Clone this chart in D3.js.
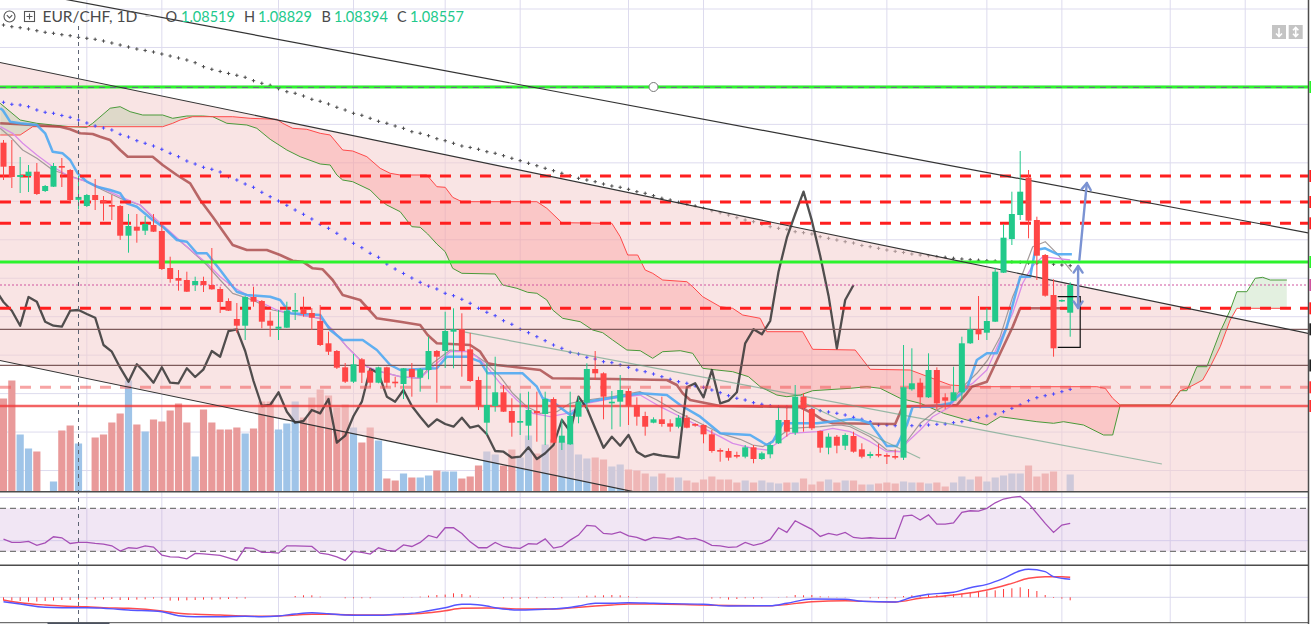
<!DOCTYPE html>
<html>
<head>
<meta charset="utf-8">
<script src="https://cdn.jsdelivr.net/npm/d3@7/dist/d3.min.js"></script>
<style>
  html, body { margin: 0; padding: 0; background: #fff; overflow: hidden; }
  svg { display: block; }
</style>
</head>
<body>
<div id="chart"></div>
<script>
// ---- data ----
const opens = [1.09262,1.08959,1.08816,1.08829,1.08885,1.08634,1.08690,1.08959,1.08907,1.08519,
1.08439,1.08582,1.08517,1.08452,1.08439,1.08053,1.08170,1.08118,1.08192,1.08114,
1.07633,1.07503,1.07477,1.07412,1.07464,1.07412,1.07360,1.07204,1.06970,1.06883,
1.07256,1.07204,1.06948,1.06844,1.06857,1.07065,1.07100,1.07048,1.06944,1.06654,
1.06554,1.06342,1.06155,1.06446,1.06298,1.06142,1.06342,1.06155,1.06125,1.06320,
1.06207,1.06307,1.06554,1.06554,1.06805,1.06836,1.06576,1.06177,1.05622,1.05839,
1.06017,1.05774,1.05622,1.05583,1.05774,1.05735,1.05930,1.05362,1.05341,1.05700,
1.05882,1.06320,1.06264,1.05874,1.05895,1.06034,1.05852,1.05709,1.05622,1.05666,
1.05614,1.05570,1.05687,1.05605,1.05592,1.05471,1.05267,1.05254,1.05202,1.05180,
1.05302,1.05150,1.05211,1.05354,1.05657,1.05492,1.05960,1.05800,1.05514,1.05297,
1.05440,1.05323,1.05449,1.05276,1.05189,1.05215,1.05202,1.05189,1.05167,1.06056,
1.06142,1.05952,1.06307,1.05952,1.05908,1.06017,1.06654,1.06836,1.06792,1.06935,
1.07572,1.08010,1.08322,1.08806,1.08257,1.07802,1.07282,1.07198,1.07052];
const highs = [1.09297,1.09297,1.09076,1.08972,1.08998,1.08712,1.08998,1.09063,1.08920,1.08829,
1.08595,1.08790,1.08569,1.08582,1.08452,1.08335,1.08335,1.08309,1.08335,1.08218,
1.07780,1.07607,1.07585,1.07520,1.07520,1.07893,1.07390,1.07239,1.07178,1.07269,
1.07390,1.07217,1.07065,1.07087,1.07195,1.07308,1.07260,1.07113,1.07152,1.06805,
1.06567,1.06398,1.06515,1.06463,1.06329,1.06350,1.06350,1.06220,1.06333,1.06398,
1.06333,1.06740,1.06567,1.07065,1.07109,1.07044,1.06788,1.06220,1.06394,1.06480,
1.06112,1.05939,1.06004,1.06025,1.06025,1.06025,1.05952,1.05679,1.06025,1.05960,
1.06394,1.06554,1.06277,1.06034,1.06242,1.06069,1.05952,1.05765,1.05692,1.05960,
1.05666,1.05722,1.05722,1.05614,1.05599,1.05527,1.05289,1.05289,1.05245,1.05332,
1.05332,1.05245,1.05354,1.05809,1.05830,1.06112,1.06004,1.05809,1.05520,1.05484,
1.05462,1.05484,1.05505,1.05354,1.05245,1.05345,1.05224,1.05276,1.06632,1.06589,
1.06199,1.06524,1.06342,1.06004,1.06350,1.06740,1.07000,1.07269,1.07109,1.07637,
1.08201,1.08625,1.09154,1.08907,1.08300,1.07815,1.07486,1.07224,1.07447];
const lows = [1.08777,1.08673,1.08608,1.08621,1.08582,1.08621,1.08686,1.08686,1.08491,1.08394,
1.08426,1.08387,1.08248,1.08257,1.07997,1.07832,1.07962,1.08062,1.08101,1.07607,
1.07442,1.07338,1.07321,1.07334,1.07321,1.07351,1.07048,1.07074,1.06792,1.06697,
1.07130,1.06849,1.06740,1.06697,1.06853,1.06957,1.07000,1.06827,1.06619,1.06502,
1.06320,1.06138,1.06138,1.06138,1.06082,1.06134,1.06082,1.06082,1.05930,1.05960,
1.06025,1.06186,1.05882,1.06333,1.06329,1.06220,1.06151,1.05787,1.05462,1.05765,
1.05761,1.05440,1.05462,1.05397,1.05375,1.05332,1.05354,1.05267,1.05332,1.05614,
1.05787,1.06177,1.05666,1.05536,1.05570,1.05592,1.05583,1.05453,1.05614,1.05570,
1.05505,1.05549,1.05549,1.05570,1.05354,1.05232,1.05115,1.05128,1.05159,1.05159,
1.05094,1.05137,1.05159,1.05345,1.05440,1.05462,1.05505,1.05527,1.05232,1.05211,
1.05224,1.05267,1.05232,1.05159,1.05159,1.05172,1.05085,1.05146,1.05137,1.06038,
1.05809,1.05943,1.05796,1.05796,1.05904,1.05908,1.06645,1.06697,1.06697,1.06931,
1.07568,1.07932,1.08257,1.08019,1.07477,1.07260,1.06480,1.07191,1.06740];
const closes = [1.08950,1.08816,1.08842,1.08885,1.08595,1.08699,1.08959,1.08937,1.08517,1.08557,
1.08582,1.08517,1.08482,1.08430,1.08053,1.08179,1.08118,1.08205,1.08105,1.07620,
1.07490,1.07468,1.07325,1.07464,1.07412,1.07356,1.07191,1.07078,1.06883,1.07256,
1.07195,1.06935,1.06883,1.06870,1.07078,1.07087,1.07035,1.06987,1.06632,1.06545,
1.06337,1.06155,1.06381,1.06272,1.06142,1.06342,1.06142,1.06134,1.06329,1.06216,
1.06316,1.06554,1.06480,1.06814,1.06836,1.06554,1.06164,1.05839,1.05852,1.06017,
1.05765,1.05622,1.05644,1.05787,1.05744,1.05930,1.05362,1.05453,1.05709,1.05895,
1.06320,1.06264,1.05960,1.05895,1.06047,1.05839,1.05700,1.05570,1.05666,1.05605,
1.05570,1.05687,1.05557,1.05583,1.05471,1.05254,1.05245,1.05167,1.05180,1.05302,
1.05150,1.05224,1.05332,1.05657,1.05505,1.05960,1.05809,1.05549,1.05297,1.05440,
1.05323,1.05462,1.05245,1.05180,1.05215,1.05193,1.05180,1.05167,1.06082,1.06134,
1.05952,1.06307,1.05874,1.05908,1.06017,1.06654,1.06836,1.06771,1.06944,1.07585,
1.08027,1.08335,1.08625,1.08248,1.07793,1.07273,1.06589,1.07217,1.07412];
const volumes = [93,111,57,43,40,0,10,61,66,48,1,54,57,69,78,111,67,60,72,70,
81,88,69,35,82,69,62,62,64,58,63,90,90,62,68,90,74,94,102,96,
84,87,64,49,64,51,13,11,18,14,14,16,21,20,20,13,15,26,40,37,
26,42,34,56,38,47,52,50,48,37,33,34,32,25,27,22,21,18,15,18,
14,14,11,9,12,15,12,12,9,11,9,11,9,8,9,9,13,7,10,12,
9,11,11,7,7,8,9,8,10,9,9,8,9,5,9,15,12,15,10,14,
16,18,18,26,15,18,20,0,17];

// long moving averages drawn as "+" marks (one value per bar)
const grayCross = [1.10792,1.10770,1.10757,1.10740,1.10718,1.10697,1.10684,1.10666,1.10653,1.10632,
1.10619,1.10606,1.10584,1.10558,1.10532,1.10506,1.10480,1.10461,1.10441,1.10415,
1.10389,1.10363,1.10337,1.10302,1.10250,1.10216,1.10188,1.10162,1.10138,1.10112,
1.10068,1.10034,1.10008,1.09964,1.09925,1.09904,1.09869,1.09826,1.09800,1.09765,
1.09722,1.09687,1.09644,1.09618,1.09579,1.09540,1.09514,1.09479,1.09449,1.09405,
1.09384,1.09353,1.09314,1.09288,1.09254,1.09219,1.09200,1.09176,1.09145,1.09124,
1.09093,1.09059,1.09028,1.08994,1.08963,1.08929,1.08898,1.08864,1.08833,1.08799,
1.08777,1.08755,1.08725,1.08699,1.08682,1.08656,1.08625,1.08604,1.08573,1.08539,
1.08517,1.08487,1.08461,1.08439,1.08409,1.08378,1.08352,1.08322,1.08287,1.08257,
1.08235,1.08201,1.08170,1.08149,1.08136,1.08105,1.08092,1.08075,1.08040,1.08019,
1.07997,1.07975,1.07958,1.07926,1.07910,1.07889,1.07867,1.07850,1.07835,1.07815,
1.07802,1.07793,1.07780,1.07772,1.07759,1.07750,1.07741,1.07734,1.07728,1.07724,
1.07718,1.07712,1.07707,1.07698,1.07694,1.07689,1.07682,1.07672,1.07663];
const blueCross = [1.09787,1.09761,1.09752,1.09730,1.09687,1.09657,1.09644,1.09616,1.09592,1.09557,
1.09518,1.09479,1.09453,1.09427,1.09371,1.09336,1.09288,1.09254,1.09219,1.09176,
1.09124,1.09080,1.09024,1.08985,1.08942,1.08916,1.08881,1.08820,1.08777,1.08725,
1.08682,1.08617,1.08560,1.08504,1.08448,1.08387,1.08331,1.08270,1.08201,1.08149,
1.08084,1.08010,1.07954,1.07897,1.07824,1.07772,1.07685,1.07620,1.07562,1.07503,
1.07447,1.07399,1.07360,1.07304,1.07273,1.07226,1.07174,1.07109,1.07057,1.07013,
1.06948,1.06901,1.06836,1.06792,1.06740,1.06688,1.06632,1.06589,1.06537,1.06515,
1.06472,1.06450,1.06415,1.06402,1.06372,1.06342,1.06307,1.06285,1.06255,1.06220,
1.06186,1.06155,1.06134,1.06099,1.06082,1.06047,1.06012,1.05973,1.05939,1.05917,
1.05882,1.05861,1.05843,1.05830,1.05830,1.05817,1.05809,1.05796,1.05778,1.05761,
1.05744,1.05722,1.05692,1.05666,1.05635,1.05592,1.05592,1.05583,1.05583,1.05583,
1.05583,1.05592,1.05601,1.05605,1.05622,1.05635,1.05657,1.05687,1.05709,1.05735,
1.05765,1.05809,1.05852,1.05908,1.05947,1.05973,1.05995,1.06025,1.06056];

// ichimoku + short averages, vertices as [bar, price]
const spanA = [[-0.4,1.09774],[2.0,1.09557],[4.0,1.09514],[5.9,1.09492],[8.0,1.09470],[10.0,1.09462],[10.7,1.09514],[12.8,1.09710],[14.0,1.09730],[15.2,1.09665],[16.7,1.09622],[19.1,1.09622],[20.3,1.09579],[22.0,1.09609],[23.9,1.09609],[25.1,1.09600],[26.8,1.09514],[29.2,1.09492],[30.4,1.09449],[32.0,1.09306],[34.0,1.09167],[35.6,1.09080],[38.0,1.08985],[39.2,1.08972],[40.0,1.08842],[40.7,1.08777],[41.9,1.08755],[44.0,1.08647],[45.2,1.08517],[46.0,1.08452],[47.6,1.08365],[49.0,1.08170],[50.0,1.08162],[50.9,1.08075],[52.0,1.07945],[53.0,1.07845],[53.9,1.07629],[55.0,1.07564],[59.0,1.07555],[59.9,1.07412],[61.6,1.07369],[62.9,1.07317],[64.0,1.07304],[65.2,1.07217],[65.9,1.07087],[67.1,1.06979],[69.2,1.06935],[70.7,1.06827],[71.9,1.06792],[73.1,1.06697],[74.8,1.06567],[76.4,1.06558],[77.9,1.06459],[79.1,1.06545],[81.2,1.06558],[82.7,1.06524],[83.9,1.06329],[85.6,1.06307],[87.5,1.06285],[89.4,1.06220],[90.8,1.06090],[92.8,1.05982],[94.0,1.05960],[95.6,1.05982],[97.1,1.06038],[101.6,1.06069],[103.6,1.06090],[105.2,1.06069],[107.6,1.05939],[110.0,1.05874],[112.8,1.05744],[115.6,1.05657],[118.0,1.05592],[119.6,1.05700],[124.0,1.05635],[126.0,1.05614],[127.2,1.05635],[129.6,1.05592],[132.0,1.05462],[133.1,1.05462],[134.0,1.05852],[140.0,1.05852],[141.2,1.06038],[142.0,1.06038],[143.2,1.06350],[144.4,1.06350],[146.0,1.06805],[147.2,1.07087],[148.0,1.07325],[149.2,1.07325],[150.2,1.07499],[151.1,1.07512],[152.0,1.07477],[154.0,1.07477]];
const spanB = [[-0.4,1.09362],[2.0,1.09362],[3.5,1.09470],[19.1,1.09470],[20.3,1.09514],[21.2,1.09557],[22.7,1.09600],[27.5,1.09600],[29.6,1.09579],[32.8,1.09566],[33.5,1.09514],[34.7,1.09449],[36.4,1.09436],[38.0,1.09384],[39.2,1.09362],[40.7,1.09167],[41.9,1.09154],[43.6,1.09080],[45.2,1.08929],[46.4,1.08864],[47.6,1.08842],[50.8,1.08842],[52.0,1.08690],[53.0,1.08682],[53.9,1.08552],[55.0,1.08495],[64.0,1.08495],[65.2,1.08409],[67.0,1.08222],[73.0,1.08214],[74.0,1.08040],[74.9,1.07802],[76.1,1.07802],[77.0,1.07607],[77.9,1.07564],[79.1,1.07477],[82.0,1.07455],[82.7,1.07390],[83.9,1.07260],[86.0,1.07130],[87.5,1.07109],[88.7,1.07022],[90.8,1.06979],[91.6,1.06805],[95.9,1.06805],[97.1,1.06576],[102.2,1.06567],[104.0,1.06316],[108.8,1.06307],[113.6,1.06112],[116.8,1.06090],[131.2,1.06090],[132.2,1.06069],[133.1,1.05939],[134.0,1.05852],[140.0,1.05852],[141.2,1.06038],[142.4,1.06090],[143.9,1.06177],[144.8,1.06350],[146.0,1.06610],[147.2,1.06957],[148.0,1.07109],[154.0,1.07109]];
const kijun = [[-0.4,1.09514],[2.0,1.09501],[6.8,1.09470],[8.0,1.09436],[9.2,1.09384],[10.7,1.09375],[11.6,1.09340],[12.8,1.09297],[14.0,1.09167],[14.9,1.09080],[17.9,1.09080],[19.1,1.08972],[20.8,1.08842],[22.4,1.08734],[23.6,1.08517],[25.1,1.08300],[27.5,1.07932],[29.2,1.07867],[31.6,1.07867],[33.2,1.07802],[34.7,1.07728],[35.9,1.07715],[37.1,1.07629],[38.3,1.07616],[39.5,1.07477],[40.7,1.07282],[42.8,1.07217],[44.8,1.06979],[47.6,1.06935],[50.0,1.06892],[50.9,1.06762],[52.0,1.06654],[56.0,1.06632],[57.2,1.06545],[58.1,1.06394],[59.2,1.06372],[64.4,1.06307],[65.9,1.06199],[73.1,1.06190],[79.6,1.06177],[80.8,1.06112],[81.5,1.06004],[82.4,1.05917],[86.0,1.05839],[92.3,1.05830],[95.6,1.05822],[97.1,1.05744],[98.3,1.05657],[99.5,1.05614],[107.0,1.05605],[107.9,1.05830],[114.4,1.05852],[115.6,1.06004],[116.2,1.06090],[118.0,1.06155],[119.6,1.06524],[121.1,1.06870],[122.0,1.07109],[128.1,1.07109]];
const tenkan = [[-0.4,1.09709],[-0.1,1.09687],[0.8,1.09535],[2.0,1.09514],[4.0,1.09492],[5.0,1.09384],[5.9,1.09145],[7.1,1.09124],[8.0,1.09037],[8.9,1.08864],[10.0,1.08755],[11.2,1.08690],[12.8,1.08647],[14.0,1.08604],[14.8,1.08474],[16.0,1.08430],[17.9,1.08257],[19.1,1.08170],[20.8,1.07997],[22.0,1.07975],[23.2,1.07824],[24.4,1.07824],[26.0,1.07607],[27.2,1.07434],[28.0,1.07325],[29.2,1.07282],[32.0,1.07260],[33.2,1.07217],[34.4,1.07044],[38.0,1.07022],[39.2,1.06827],[40.7,1.06697],[43.1,1.06697],[44.8,1.06567],[46.4,1.06372],[47.6,1.06307],[52.0,1.06329],[53.2,1.06480],[55.6,1.06480],[57.2,1.06415],[58.1,1.06264],[62.3,1.06264],[64.0,1.06090],[64.7,1.05939],[65.9,1.05895],[68.0,1.05722],[70.0,1.05895],[76.4,1.06004],[79.6,1.05982],[81.2,1.05852],[83.6,1.05700],[86.0,1.05484],[89.6,1.05462],[91.6,1.05332],[92.3,1.05375],[93.5,1.05614],[97.6,1.05614],[99.2,1.05635],[101.6,1.05666],[102.8,1.05657],[104.0,1.05614],[106.0,1.05319],[107.2,1.05319],[108.4,1.05592],[109.1,1.05830],[111.5,1.05830],[113.6,1.05874],[115.6,1.06069],[116.8,1.06437],[118.0,1.06524],[119.2,1.06524],[120.4,1.06870],[122.0,1.07520],[123.2,1.07520],[123.8,1.07867],[125.0,1.07889],[126.5,1.07811],[128.2,1.07811]];
const maPink = [[-0.4,1.09470],[1.1,1.09384],[2.3,1.09254],[4.0,1.09102],[5.9,1.08950],[8.0,1.08820],[10.0,1.08755],[11.9,1.08669],[14.0,1.08560],[16.4,1.08452],[18.4,1.08257],[20.0,1.08105],[22.0,1.07910],[24.4,1.07694],[26.0,1.07520],[27.5,1.07390],[29.9,1.07239],[32.8,1.07087],[34.4,1.07044],[38.0,1.06979],[39.5,1.06827],[41.2,1.06610],[43.6,1.06350],[45.2,1.06285],[47.6,1.06220],[50.0,1.06199],[51.5,1.06350],[53.6,1.06545],[55.6,1.06545],[56.8,1.06480],[58.0,1.06350],[59.6,1.06134],[61.6,1.05917],[63.5,1.05744],[65.6,1.05700],[67.6,1.05744],[70.0,1.05874],[73.1,1.05939],[76.4,1.05982],[78.8,1.05830],[80.8,1.05722],[83.6,1.05570],[86.0,1.05440],[87.5,1.05354],[89.9,1.05289],[91.6,1.05267],[92.8,1.05354],[94.4,1.05484],[97.6,1.05505],[99.5,1.05549],[101.6,1.05505],[104.0,1.05375],[106.0,1.05245],[107.6,1.05245],[108.5,1.05375],[110.0,1.05527],[111.5,1.05700],[113.6,1.05830],[115.1,1.06069],[116.3,1.06134],[118.0,1.06307],[119.6,1.06697],[121.1,1.07044],[122.3,1.07434],[123.4,1.07650],[124.7,1.07780],[126.4,1.07759],[128.0,1.07737]];
const maGray = [[-0.4,1.09449],[0.8,1.09340],[2.3,1.09167],[4.0,1.09059],[5.9,1.08907],[8.0,1.08829],[10.0,1.08755],[11.9,1.08647],[14.0,1.08539],[16.4,1.08452],[18.4,1.08235],[20.0,1.08084],[22.0,1.07910],[24.4,1.07672],[26.0,1.07477],[27.5,1.07304],[29.9,1.07217],[32.3,1.07087],[34.4,1.07044],[38.0,1.06979],[39.5,1.06827],[41.2,1.06610],[43.6,1.06350],[45.2,1.06285],[47.6,1.06220],[50.0,1.06199],[51.5,1.06394],[53.6,1.06567],[56.0,1.06545],[58.0,1.06394],[59.6,1.06220],[61.1,1.06004],[62.8,1.05830],[64.4,1.05744],[66.4,1.05765],[68.0,1.05874],[70.0,1.05917],[73.1,1.05960],[76.4,1.06025],[78.4,1.05917],[80.8,1.05765],[83.6,1.05614],[86.0,1.05484],[88.4,1.05406],[89.9,1.05332],[91.1,1.05310],[92.8,1.05419],[94.4,1.05549],[98.0,1.05570],[100.4,1.05592],[101.6,1.05570],[104.0,1.05440],[106.0,1.05267],[107.6,1.05245],[108.5,1.05397],[110.0,1.05614],[112.0,1.05787],[113.6,1.05874],[115.1,1.06090],[116.8,1.06264],[118.1,1.06437],[119.6,1.06740],[121.1,1.07260],[122.3,1.07564],[123.5,1.07910],[125.0,1.07975],[126.4,1.07824],[128.2,1.07585]];
const chikouShift = 26;

// horizontal levels
const redLevels = [1.08829, 1.08491, 1.08214, 1.07109];
const greenLevels = [1.09986, 1.07711];
const thinLevels = [1.06836, 1.06366];
const fadedRedLevel = 1.06082;
const solidRedLevel = 1.05839;

// drawn trend lines: two anchors [bar, price]
const topLine = [[50, 1.10259], [150, 1.08224]];
const channelUpper = [[0, 1.10295], [150, 1.06931]];
const channelLower = [[0, 1.06421], [75, 1.04739]];
const fanLine = [[55.1, 1.06805], [139, 1.05085]];
const shortLine = [[95.6, 1.05904], [110, 1.05159]];
const arrowUp = [[129.1, 1.07737], [130.0, 1.08738]];
const arrowBoth = [[128.95, 1.07113], [128.95, 1.07659]];
const boxBars = [126.5, 129.2];
const boxPrices = [1.07260, 1.06602];
const handleBar = 78;

// RSI (one per bar)
const rsi = [41.4,38.4,38.4,39.3,35.6,38.0,43.6,42.7,37.4,38.4,
38.4,37.5,36.8,35.2,30.3,33.4,32.8,35.2,34.0,26.6,
25.0,24.7,23.1,28.1,27.8,27.0,26.3,24.1,21.6,33.4,
32.8,29.1,29.1,28.4,35.2,35.2,34.9,34.6,28.4,27.2,
25.0,21.6,30.0,29.1,27.5,33.4,30.9,30.3,36.1,34.6,
38.4,44.9,42.7,52.0,52.0,46.7,38.9,33.4,33.4,38.4,
34.6,33.4,32.8,37.1,36.8,41.7,33.1,34.6,40.5,45.2,
54.2,53.5,46.7,46.1,48.2,44.5,43.0,40.2,43.0,42.4,
41.4,43.6,41.4,42.1,39.6,35.6,35.2,33.7,34.3,38.4,
35.6,37.4,41.2,52.0,47.7,58.5,54.5,50.5,43.9,46.7,
45.2,47.7,43.0,42.1,42.7,42.1,42.1,42.1,62.8,63.8,
59.1,64.0,55.4,55.4,56.6,66.3,67.8,67.5,70.0,75.2,
78.7,80.2,81.2,74.6,65.3,56.0,47.7,54.5,56.0];
const rsiLevels = [70, 30];
const rsiGrid = [80, 40];

// MACD vertices [bar, value] and histogram per bar
const macdLine = [[0,-0.00044],[2,-0.00067],[5,-0.00100],[7,-0.00104],[10,-0.00104],[12,-0.00110],[15,-0.00127],[19,-0.00144],[21,-0.00184],[23,-0.00194],[26,-0.00194],[29,-0.00190],[31,-0.00194],[33,-0.00187],[35,-0.00167],[37,-0.00154],[39,-0.00164],[41,-0.00177],[43,-0.00180],[45,-0.00180],[47,-0.00170],[49,-0.00160],[51,-0.00134],[53,-0.00104],[55,-0.00070],[56,-0.00070],[58,-0.00087],[59,-0.00104],[62,-0.00127],[65,-0.00120],[67,-0.00110],[69,-0.00087],[71,-0.00060],[73,-0.00060],[75,-0.00054],[78,-0.00060],[84,-0.00070],[87,-0.00087],[92,-0.00084],[94,-0.00060],[97,-0.00017],[101,-0.00020],[103,-0.00040],[107,-0.00047],[109,0.00000],[111,0.00030],[114,0.00050],[116,0.00096],[118,0.00130],[120,0.00190],[122,0.00266],[123,0.00280],[125,0.00256],[126,0.00206],[128,0.00180]];
const signalLine = [[0,-0.00027],[2,-0.00054],[5,-0.00077],[7,-0.00087],[10,-0.00094],[12,-0.00104],[15,-0.00110],[19,-0.00137],[21,-0.00160],[23,-0.00170],[26,-0.00177],[29,-0.00187],[31,-0.00190],[33,-0.00187],[35,-0.00177],[37,-0.00170],[39,-0.00170],[41,-0.00174],[43,-0.00177],[45,-0.00177],[47,-0.00174],[49,-0.00167],[51,-0.00154],[53,-0.00134],[55,-0.00110],[58,-0.00107],[60,-0.00110],[62,-0.00117],[65,-0.00117],[67,-0.00114],[69,-0.00100],[71,-0.00087],[73,-0.00077],[75,-0.00067],[78,-0.00067],[84,-0.00077],[92,-0.00084],[97,-0.00044],[101,-0.00034],[103,-0.00040],[107,-0.00047],[110,-0.00010],[114,0.00023],[118,0.00073],[121,0.00140],[123,0.00190],[125,0.00206],[127,0.00206],[128,0.00200]];
const macdHist = [-0.00033,-0.00033,-0.00037,-0.00043,-0.00043,-0.00037,-0.00033,-0.00027,-0.00027,-0.00023,
-0.00020,-0.00020,-0.00020,-0.00017,-0.00027,-0.00027,-0.00023,-0.00020,-0.00013,-0.00013,
-0.00033,-0.00033,-0.00030,-0.00027,-0.00023,-0.00023,-0.00020,-0.00017,-0.00013,-0.00013,
0,0,0,0,0,0.00013,0.00020,0.00020,0.00007,0,
0,-0.00010,-0.00010,-0.00010,-0.00010,0,0,0,0.00003,0.00003,
0.00007,0.00017,0.00023,0.00027,0.00040,0.00033,0.00020,0.00003,0,0,
-0.00010,-0.00013,-0.00017,-0.00010,-0.00010,-0.00007,-0.00007,-0.00010,0,0.00007,
0.00017,0.00017,0.00020,0.00023,0.00020,0.00010,0.00003,0,0,0,
0,0,0,0,0,-0.00013,-0.00010,-0.00023,-0.00017,-0.00010,
-0.00013,-0.00010,0,0.00003,0.00007,0.00023,0.00020,0.00023,0.00010,0.00007,
0.00003,0.00003,0,0,-0.00010,-0.00010,-0.00010,-0.00013,0.00013,0.00020,
0.00023,0.00030,0.00023,0.00023,0.00033,0.00037,0.00047,0.00053,0.00060,0.00070,
0.00083,0.00090,0.00100,0.00083,0.00063,0.00023,-0.00007,-0.00013,-0.00030];

// time grid (bar indexes) and price grid
const gridBars = [10, 19, 33, 42, 53, 62, 75, 84, 97, 106, 118, 127, 140, 149];
const priceGrid = d3.range(1.050, 1.1101, 0.005);
const crossBar = 9;
const headerLabels = ["O", "H", "B", "C"];

// ---- layout ----
const W = 1311, H = 624;
const plotRight = 1308;
const mainBottom = 491.5;

const x = d3.scaleLinear().domain([0, 128]).range([3.5, 1070.2]);
const y = d3.scaleLinear().domain([1.04734, 1.11117]).range([491, 0]);
const yVol = d3.scaleLinear().domain([0, 111]).range([mainBottom, 380.5]);
const yRsi = d3.scaleLinear().domain([17.1, 85.5]).range([565.3, 491.7]);
const yMacd = d3.scaleLinear().domain([-0.00254, 0.0032]).range([622.7, 565.3]);

const UP = "#22c98b", DOWN = "#ff4646";
const isUp = i => closes[i] >= opens[i];

const svg = d3.select("#chart").append("svg")
  .attr("width", W).attr("height", H);
const defs = svg.append("defs");
defs.append("clipPath").attr("id", "clipMain")
  .append("rect").attr("width", plotRight).attr("height", mainBottom);
defs.append("clipPath").attr("id", "clipLow")
  .append("rect").attr("y", 492).attr("width", plotRight).attr("height", 131);

// grid
const grid = svg.append("g").attr("stroke", "#dddbee").attr("stroke-width", 1);
grid.selectAll(".gv").data(gridBars).join("line")
  .attr("x1", d => x(d)).attr("x2", d => x(d))
  .attr("y1", 0).attr("y2", 622.7);
grid.selectAll(".gh").data(priceGrid).join("line")
  .attr("x1", 0).attr("x2", plotRight)
  .attr("y1", d => y(d)).attr("y2", d => y(d));

const main = svg.append("g").attr("clip-path", "url(#clipMain)");

// volume
main.append("g").selectAll("rect").data(volumes).join("rect")
  .attr("x", (d, i) => x(i) - 3.6).attr("width", 7.2)
  .attr("y", d => yVol(d)).attr("height", d => yVol(0) - yVol(d))
  .attr("fill", (d, i) => isUp(i) ? "#9fc4e8" : "#e99a9a");

// long MA crosses (grey one sits under the channel fill)
const cross = "M-1.7,0H1.7M0,-1.7V1.7";
main.append("g").attr("stroke", "#4d4d4d").attr("stroke-width", 1)
  .selectAll("path").data(grayCross).join("path")
  .attr("d", cross).attr("transform", (d, i) => `translate(${x(i)},${y(d)})`);

// channel fill
function priceAt(l, i) {
  const [[i1, p1], [i2, p2]] = l;
  return p1 + (p2 - p1) * (i - i1) / (i2 - i1);
}
const e0 = -3, e1 = 160;
const chPts = [[e0, priceAt(channelUpper, e0)], [e1, priceAt(channelUpper, e1)],
  [e1, priceAt(channelLower, e1)], [e0, priceAt(channelLower, e0)]];
main.append("path")
  .attr("d", "M" + chPts.map(p => x(p[0]) + "," + y(p[1])).join("L") + "Z")
  .attr("fill", "rgba(244,205,205,0.55)");

// ichimoku cloud
const areaDown = d3.area().x(d => x(d[0])).y0(mainBottom).y1(d => y(d[1]));
const areaUp = d3.area().x(d => x(d[0])).y0(0).y1(d => y(d[1]));
defs.append("clipPath").attr("id", "clipAboveB").append("path").attr("d", areaUp(spanB));
defs.append("clipPath").attr("id", "clipAboveA").append("path").attr("d", areaUp(spanA));
main.append("path").attr("d", areaDown(spanA))
  .attr("fill", "rgba(80,160,60,0.16)").attr("clip-path", "url(#clipAboveB)");
main.append("path").attr("d", areaDown(spanB))
  .attr("fill", "rgba(255,60,60,0.17)").attr("clip-path", "url(#clipAboveA)");

const line = d3.line().x(d => x(d[0])).y(d => y(d[1]));
function drawLine(g, data, color, w, op) {
  g.append("path").attr("d", line(data))
    .attr("fill", "none").attr("stroke", color)
    .attr("stroke-width", w).attr("stroke-opacity", op || 1)
    .attr("stroke-linejoin", "round");
}
drawLine(main, spanA, "#4a9a3a", 1);
drawLine(main, spanB, "#ff4a4a", 1);

// blue long MA crosses
main.append("g").attr("stroke", "#4848ff").attr("stroke-width", 1)
  .selectAll("path").data(blueCross).join("path")
  .attr("d", cross).attr("transform", (d, i) => `translate(${x(i)},${y(d)})`);

drawLine(main, kijun, "#a84646", 2.6, 0.8);
drawLine(main, maGray, "#a39a9a", 1.2);
drawLine(main, maPink, "#d98ce8", 1.3);
drawLine(main, tenkan, "#4fa8f2", 2.5, 0.9);
drawLine(main, closes.map((c, i) => [i - chikouShift, c]), "#333", 2.3, 0.85);

// horizontal levels
function hLevel(p, color, w, dash) {
  main.append("line").attr("x1", 0).attr("x2", plotRight)
    .attr("y1", y(p)).attr("y2", y(p))
    .attr("stroke", color).attr("stroke-width", w)
    .attr("stroke-dasharray", dash || null);
}
thinLevels.forEach(p => hLevel(p, "#7d5a5a", 1.2));
hLevel(solidRedLevel, "rgba(240,60,60,0.8)", 2.5);
hLevel(fadedRedLevel, "rgba(240,90,90,0.55)", 3, "11,9");
redLevels.forEach(p => hLevel(p, "#ff1f1f", 3, "11,9"));
greenLevels.forEach(p => hLevel(p, "#2cf22c", 3));
main.append("line").attr("x1", 0).attr("x2", plotRight)
  .attr("y1", y(greenLevels[0]) + 0.5).attr("y2", y(greenLevels[0]) + 0.5)
  .attr("stroke", "#667080").attr("stroke-width", 1).attr("stroke-dasharray", "6,5");
hLevel(closes[closes.length - 1], "#d0559f", 1, "2,2");

// trend lines
function trend(l, color, w, extend) {
  const a = extend ? [e0, priceAt(l, e0)] : l[0];
  const b = extend ? [e1, priceAt(l, e1)] : l[1];
  main.append("line").attr("x1", x(a[0])).attr("y1", y(a[1]))
    .attr("x2", x(b[0])).attr("y2", y(b[1]))
    .attr("stroke", color).attr("stroke-width", w);
}
trend(topLine, "#333", 1.2, true);
trend(channelUpper, "#333", 1.2, true);
trend(channelLower, "#333", 1.2, true);
trend(fanLine, "rgba(100,160,130,0.65)", 1.2, false);
trend(shortLine, "rgba(100,160,130,0.65)", 1.2, false);

// candles
const idx = d3.range(closes.length);
const cg = main.append("g");
cg.selectAll("line").data(idx).join("line")
  .attr("x1", i => x(i)).attr("x2", i => x(i))
  .attr("y1", i => y(highs[i])).attr("y2", i => y(lows[i]))
  .attr("stroke", i => isUp(i) ? UP : DOWN).attr("stroke-width", 1);
cg.selectAll("rect").data(idx).join("rect")
  .attr("x", i => x(i) - 3).attr("width", 6)
  .attr("y", i => y(Math.max(opens[i], closes[i])))
  .attr("height", i => Math.max(1, Math.abs(y(opens[i]) - y(closes[i]))))
  .attr("fill", i => isUp(i) ? UP : DOWN);

// drawings: box, arrows, handle
main.append("path")
  .attr("d", `M${x(boxBars[0])},${y(boxPrices[0])}H${x(boxBars[1])}V${y(boxPrices[1])}H${x(boxBars[0])}`)
  .attr("fill", "none").attr("stroke", "#111").attr("stroke-width", 1.2);

const ag = main.append("g").attr("stroke", "#7b93d3").attr("stroke-width", 2.4)
  .attr("fill", "none").attr("stroke-linecap", "round").attr("stroke-linejoin", "round");
function head(x0, y0, x1, y1) {
  const a = Math.atan2(y1 - y0, x1 - x0), L = 8, s = 0.6;
  const p1 = [x1 - L * Math.cos(a - s), y1 - L * Math.sin(a - s)];
  const p2 = [x1 - L * Math.cos(a + s), y1 - L * Math.sin(a + s)];
  ag.append("path").attr("d", `M${p1}L${x1},${y1}L${p2}`);
}
function arrow(a, both) {
  const x0 = x(a[0][0]), y0 = y(a[0][1]), x1 = x(a[1][0]), y1 = y(a[1][1]);
  ag.append("line").attr("x1", x0).attr("y1", y0).attr("x2", x1).attr("y2", y1);
  head(x0, y0, x1, y1);
  if (both) head(x1, y1, x0, y0);
}
arrow(arrowUp, false);
arrow(arrowBoth, true);

main.append("circle").attr("cx", x(handleBar)).attr("cy", y(greenLevels[0])).attr("r", 4.5)
  .attr("fill", "#fff").attr("stroke", "#777").attr("stroke-width", 1);

// ---- RSI pane ----
const low = svg.append("g").attr("clip-path", "url(#clipLow)");
low.append("rect").attr("x", 0).attr("width", plotRight)
  .attr("y", yRsi(rsiLevels[0])).attr("height", yRsi(rsiLevels[1]) - yRsi(rsiLevels[0]))
  .attr("fill", "rgba(190,140,205,0.22)");
rsiGrid.forEach(v => low.append("line").attr("x1", 0).attr("x2", plotRight)
  .attr("y1", yRsi(v)).attr("y2", yRsi(v)).attr("stroke", "#d6cdea"));
rsiLevels.forEach(v => low.append("line").attr("x1", 0).attr("x2", plotRight)
  .attr("y1", yRsi(v)).attr("y2", yRsi(v))
  .attr("stroke", "#787878").attr("stroke-width", 1.2).attr("stroke-dasharray", "6,4"));
low.append("path")
  .attr("d", d3.line().x((d, i) => x(i)).y(d => yRsi(d))(rsi))
  .attr("fill", "none").attr("stroke", "#a64fb6").attr("stroke-width", 1.3);

// ---- MACD pane ----
low.append("line").attr("x1", 0).attr("x2", plotRight)
  .attr("y1", yMacd(0)).attr("y2", yMacd(0)).attr("stroke", "#d8d6ec");
low.append("g").selectAll("line").data(macdHist).join("line")
  .attr("x1", (d, i) => x(i)).attr("x2", (d, i) => x(i))
  .attr("y1", yMacd(0)).attr("y2", d => yMacd(d))
  .attr("stroke", "#ff3b3b").attr("stroke-width", 1);
const mline = d3.line().x(d => x(d[0])).y(d => yMacd(d[1])).curve(d3.curveMonotoneX);
low.append("path").attr("d", mline(signalLine))
  .attr("fill", "none").attr("stroke", "#ff4d4d").attr("stroke-width", 1.4);
low.append("path").attr("d", mline(macdLine))
  .attr("fill", "none").attr("stroke", "#5555ff").attr("stroke-width", 1.4);

// ---- frame ----
const frame = svg.append("g").attr("stroke", "#4d4d4d");
[491.7, 565.3].forEach(v => frame.append("line")
  .attr("x1", 0).attr("x2", plotRight).attr("y1", v).attr("y2", v).attr("stroke-width", 1.6));
frame.append("line").attr("x1", 0).attr("x2", plotRight)
  .attr("y1", 622.7).attr("y2", 622.7).attr("stroke-width", 1);
frame.append("line").attr("x1", plotRight + 0.5).attr("x2", plotRight + 0.5)
  .attr("y1", 0).attr("y2", H).attr("stroke-width", 1.5);

// price-axis slivers at the right edge
const slivers = [[greenLevels[0], "#2cf22c"], [redLevels[0], "#ff1f1f"], [redLevels[1], "#ff1f1f"],
  [redLevels[2], "#ff1f1f"], [greenLevels[1], "#2cf22c"], [closes[closes.length - 1], "#d0559f"],
  [redLevels[3], "#ff1f1f"], [thinLevels[0], "#222"], [thinLevels[1], "#222"],
  [fadedRedLevel, "#ff3030"], [solidRedLevel, "#ff3030"]];
svg.append("g").selectAll("rect").data(slivers).join("rect")
  .attr("x", plotRight + 1.3).attr("width", 1.8)
  .attr("y", d => y(d[0]) - 6).attr("height", 12)
  .attr("fill", d => d[1]);

// crosshair
svg.append("line").attr("x1", x(crossBar)).attr("x2", x(crossBar))
  .attr("y1", 26).attr("y2", 622)
  .attr("stroke", "#5d6473").attr("stroke-width", 1).attr("stroke-dasharray", "4,4");
svg.append("rect").attr("x", x(crossBar) - 31).attr("y", 622.5).attr("width", 62).attr("height", 2)
  .attr("fill", "#4b5260");

// ---- header ----
const hdr = svg.append("g").attr("font-family", "Lato, 'Open Sans', sans-serif");
hdr.append("circle").attr("cx", 9.5).attr("cy", 16.5).attr("r", 5.5)
  .attr("fill", "none").attr("stroke", "#555").attr("stroke-width", 1.1);
hdr.append("path").attr("d", "M6.8,15.2L9.5,17.9L12.2,15.2")
  .attr("fill", "none").attr("stroke", "#555").attr("stroke-width", 1.1);
hdr.append("rect").attr("x", 24.5).attr("y", 11.5).attr("width", 10).attr("height", 10)
  .attr("fill", "none").attr("stroke", "#555").attr("stroke-width", 1.1);
hdr.append("path").attr("d", "M29.5,13.5V19.5M26.5,16.5H32.5")
  .attr("stroke", "#555").attr("stroke-width", 1.1);
hdr.append("text").attr("x", 42.5).attr("y", 22.3).attr("font-size", 15.5)
  .attr("fill", "#4a4a4a").text("EUR/CHF, 1D");
hdr.append("line").attr("x1", 145.5).attr("x2", 150.5).attr("y1", 16).attr("y2", 16)
  .attr("stroke", "#bbb").attr("stroke-width", 1.5);
const hdrValues = [opens[crossBar], highs[crossBar], lows[crossBar], closes[crossBar]];
const labelX = [165.5, 244, 321.5, 397];
const valueX = [181, 258, 334, 410];
headerLabels.forEach((lab, k) => {
  hdr.append("text").attr("x", labelX[k]).attr("y", 22.3).attr("font-size", 14.5)
    .attr("fill", "#4a4a4a").text(lab);
  hdr.append("text").attr("x", valueX[k]).attr("y", 22.3).attr("font-size", 14.5)
    .attr("fill", UP).text(hdrValues[k].toFixed(5));
});

// top-right buttons
const btn = svg.append("g");
[1272, 1288.7].forEach(bx => btn.append("rect").attr("x", bx).attr("y", 25)
  .attr("width", 14).attr("height", 14).attr("fill", "#c4c4c4"));
btn.append("path").attr("d", "M1279,28V36.5M1276,33.5L1279,36.5L1282,33.5")
  .attr("fill", "none").attr("stroke", "#fff").attr("stroke-width", 1.6);
btn.append("path").attr("d", "M1295.7,27.5V36.5M1293,30.3L1295.7,27.5L1298.4,30.3M1293,33.7L1295.7,36.5L1298.4,33.7")
  .attr("fill", "none").attr("stroke", "#fff").attr("stroke-width", 1.6);
</script>
</body>
</html>
